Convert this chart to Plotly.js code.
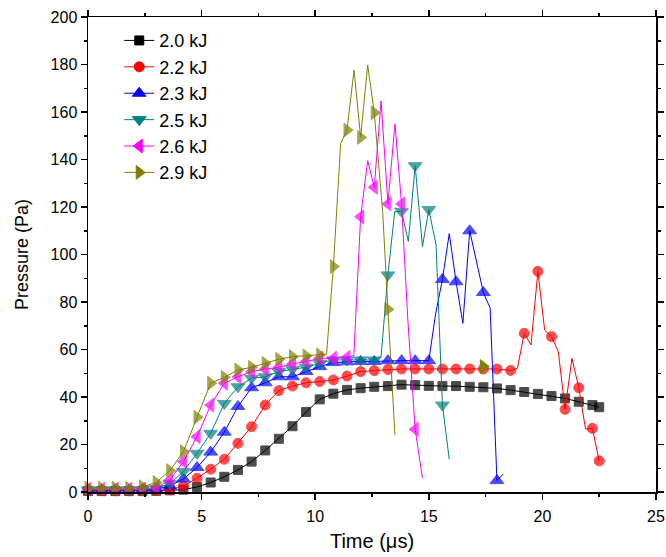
<!DOCTYPE html>
<html>
<head>
<meta charset="utf-8">
<script src="https://cdn.plot.ly/plotly-3.0.1.min.js"></script>
<style>html,body{margin:0;padding:0;background:#fff;}#chart{width:666px;height:557px;}</style>
</head>
<body>
<div id="chart"></div>
<script>
// ---- data (time in µs, pressure in Pa) ----
const seriesNames = ['2.0 kJ', '2.2 kJ', '2.3 kJ', '2.5 kJ', '2.6 kJ', '2.9 kJ'];

// 2.0 kJ (markers)
const t20 = [0,0.6,1.2,1.8,2.4,3.0,3.6,4.2,4.8,5.4,6.0,6.6,7.2,7.8,8.4,9.0,9.6,10.2,10.8,11.4,12.0,12.6,13.2,13.8,14.4,15.0,15.6,16.2,16.8,17.4,18.0,18.6,19.2,19.8,20.4,21.0,21.6,22.2,22.5];
const p20 = [0.4,0.4,0.4,0.4,0.4,0.5,0.7,1.0,2.1,4.0,6.4,9.3,12.8,17.5,22.4,27.7,33.7,39.0,41.4,43.0,43.7,44.3,44.6,45.2,45.0,44.7,44.6,44.6,44.3,44.1,43.6,42.9,42.1,41.3,40.4,39.4,38.0,36.6,35.7];
const t20x = [];
const p20x = [];

// 2.2 kJ
const t22 = [0,0.6,1.2,1.8,2.4,3.0,3.6,4.2,4.8,5.4,6.0,6.6,7.2,7.8,8.4,9.0,9.6,10.2,10.8,11.4,12.0,12.6,13.2,13.8,14.4,15.0,15.6,16.2,16.8,17.4,18.0,18.6,19.2,19.8,20.4,21.0,21.6,22.2,22.5];
const p22 = [0.5,0.5,0.5,0.5,0.5,0.6,0.9,2.5,5.8,9.6,13.8,20.5,27.5,36.6,42.7,44.6,46.0,46.5,47.2,48.8,50.7,51.1,51.6,51.8,51.8,51.8,51.8,51.8,51.8,51.8,51.8,51.2,66.8,92.9,65.4,34.8,43.9,26.8,13.1];
const t22x = [18.9,19.5,20.1,20.7,21.3,21.9];
const p22x = [52.1,61.9,68.2,59.1,56.3,26.5];

// 2.3 kJ
const t23 = [0,0.6,1.2,1.8,2.4,3.0,3.6,4.2,4.8,5.4,6.0,6.6,7.2,7.8,8.4,9.0,9.6,10.2,10.8,11.4,12.0,12.6,13.2,13.8,14.4,15.0,15.6,16.2,16.8,17.4,18.0];
const p23 = [0.8,0.8,0.8,0.8,0.9,1.2,2.5,5.5,10.3,16.8,25.2,36.0,43.9,46.0,48.5,48.5,50.7,52.8,54.5,54.8,55.0,55.0,55.3,55.3,55.3,55.3,89.5,88.5,110.0,84.0,4.8];
const t23x = [15.3,15.9,16.5,17.7,18.28];
const p23x = [75.0,108.8,71.0,77.5,7.6];

// 2.5 kJ
const t25 = [0,0.6,1.2,1.8,2.4,3.0,3.6,4.2,4.8,5.4,6.0,6.6,7.2,7.8,8.4,9.0,9.6,10.2,10.8,11.4,12.0,12.6,13.2,13.8,14.4,15.0,15.6];
const p25 = [0.9,0.9,0.9,0.9,1.0,1.5,3.5,8.6,16.3,24.7,37.3,44.3,47.9,48.5,50.7,51.7,52.5,54.2,55.6,55.6,55.6,55.6,91.4,118.2,137.4,119.0,36.6];
const t25x = [12.9,13.5,14.1,14.72,15.32,15.9];
const p25x = [57.0,118.0,105.5,103.3,104.0,13.8];

// 2.6 kJ
const t26 = [0,0.6,1.2,1.8,2.4,3.0,3.6,4.2,4.8,5.4,6.0,6.6,7.2,7.8,8.4,9.0,9.6,10.2,10.8,11.4,12.0,12.6,13.2,13.8,14.4];
const p26 = [1.2,1.2,1.2,1.2,1.3,1.8,5.0,12.8,23.3,36.6,45.8,48.5,50.7,51.7,52.5,53.9,54.9,56.3,56.3,56.7,115.9,128.3,121.3,121.3,26.4];
const t26x = [11.7,12.31,12.9,13.51,14.08,14.72];
const p26x = [57.5,139.5,164.7,155.0,72.0,5.8];

// 2.9 kJ
const t29 = [0,0.6,1.2,1.8,2.4,3.0,3.6,4.2,4.8,5.4,6.0,6.6,7.2,7.8,8.4,9.0,9.6,10.2,10.8,11.4,12.0,12.6,13.2];
const p29 = [1.6,1.6,1.6,1.6,2.2,4.0,9.0,17.0,31.5,45.8,48.3,51.4,52.5,54.2,55.9,57.0,57.3,57.7,94.9,152.4,149.3,159.7,76.9];
const t29x = [10.5,11.12,11.71,12.31,12.97,13.51];
const p29x = [58.0,146.8,177.7,179.8,118.0,24.0];
// isolated 2.9 kJ point
const t29s = [17.4];
const p29s = [52.8];

// ---- styles ----
const colors = ['#000000', '#ff0000', '#0000ff', '#008080', '#ff00ff', '#808000'];
const symbols = ['square', 'circle', 'triangle-up', 'triangle-down', 'triangle-left', 'triangle-right'];
const msizes = [9, 10, 12, 12, 12, 12];

const marked = [[t20,p20],[t22,p22],[t23,p23],[t25,p25],[t26,p26],[t29,p29]];
const extra = [[t20x,p20x],[t22x,p22x],[t23x,p23x],[t25x,p25x],[t26x,p26x],[t29x,p29x]];

const FONT = 'Arial, "Liberation Sans", sans-serif';
const traces = [];

// legend-only entries
seriesNames.forEach((name, i) => {
  traces.push({
    x: [null], y: [null], name: name, type: 'scatter', mode: 'lines+markers',
    line: {color: colors[i], width: 1},
    marker: {symbol: symbols[i], color: colors[i], size: msizes[i], line: {width: 1, color: colors[i]}},
    showlegend: true, hoverinfo: 'skip'
  });
});

// data traces
seriesNames.forEach((name, i) => {
  const pts = [];
  marked[i][0].forEach((t, j) => pts.push({t: t, p: marked[i][1][j], m: true}));
  extra[i][0].forEach((t, j) => pts.push({t: t, p: extra[i][1][j], m: false}));
  pts.sort((a, b) => a.t - b.t);
  traces.push({
    x: pts.map(d => d.t), y: pts.map(d => d.p), name: name, type: 'scatter',
    mode: 'lines+markers', cliponaxis: false,
    line: {color: colors[i], width: 1},
    marker: {symbol: symbols[i], color: colors[i], size: pts.map(d => d.m ? msizes[i] : 0),
             line: {width: pts.map(d => d.m ? 1 : 0), color: colors[i]}},
    showlegend: false
  });
});

traces.push({
  x: t29s, y: p29s, type: 'scatter', mode: 'markers', cliponaxis: false,
  marker: {symbol: symbols[5], color: colors[5], size: msizes[5], line: {width: 1, color: colors[5]}},
  showlegend: false
});

const axisCommon = {
  showline: true, linecolor: '#000', linewidth: 1.5, mirror: 'allticks',
  ticks: 'outside', ticklen: 6, tickwidth: 1.5, tickcolor: '#000',
  showgrid: false, zeroline: false,
  tickfont: {family: FONT, size: 16, color: '#000'}
};

const layout = {
  width: 666, height: 557,
  margin: {l: 88, r: 10, t: 17, b: 65},
  paper_bgcolor: '#fff', plot_bgcolor: '#fff',
  font: {family: FONT, color: '#000'},
  showlegend: true,
  legend: {x: 0.055, y: 0.989, xanchor: 'left', yanchor: 'top', bgcolor: 'rgba(0,0,0,0)',
           borderwidth: 0, tracegroupgap: 0, font: {family: FONT, size: 18, color: '#000'}},
  xaxis: Object.assign({}, axisCommon, {
    range: [0, 25], tick0: 0, dtick: 5, ticklabelstandoff: 3,
    minor: {dtick: 2.5, ticklen: 3, tickwidth: 1.5, tickcolor: '#000', ticks: 'outside'},
    title: {text: 'Time (μs)', font: {family: FONT, size: 20, color: '#000'}, standoff: 10}
  }),
  yaxis: Object.assign({}, axisCommon, {
    range: [0, 200], tick0: 0, dtick: 20,
    minor: {dtick: 10, ticklen: 3, tickwidth: 1.5, tickcolor: '#000', ticks: 'outside'},
    title: {text: 'Pressure (Pa)', font: {family: FONT, size: 18, color: '#000'}, standoff: 17}
  })
};

Plotly.newPlot('chart', traces, layout, {displayModeBar: false, staticPlot: true});
</script>
</body>
</html>
